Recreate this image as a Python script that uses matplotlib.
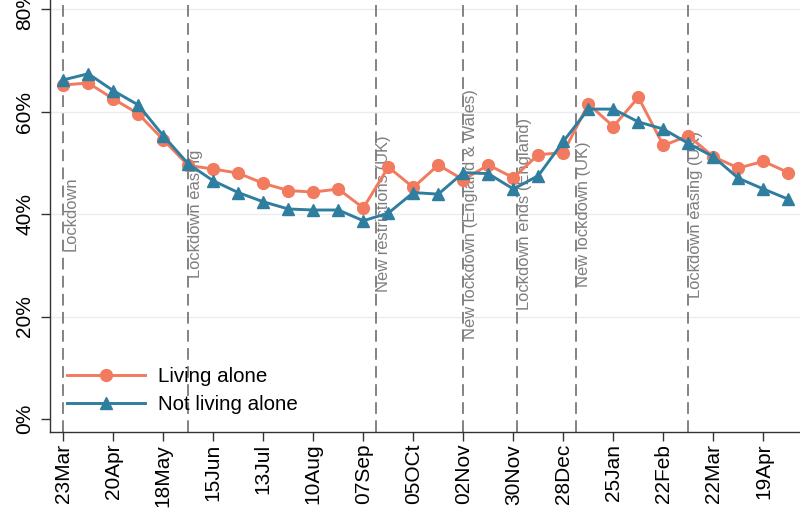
import pandas as pd
import matplotlib
matplotlib.use("Agg")
import matplotlib.pyplot as plt
import matplotlib.dates as mdates

plt.rcParams['font.family'] = ['Liberation Sans', 'DejaVu Sans']

# fortnightly survey waves
dates = pd.to_datetime([
    '2020-03-23', '2020-04-06', '2020-04-20', '2020-05-04', '2020-05-18',
    '2020-06-01', '2020-06-15', '2020-06-29', '2020-07-13', '2020-07-27',
    '2020-08-10', '2020-08-24', '2020-09-07', '2020-09-21', '2020-10-05',
    '2020-10-19', '2020-11-02', '2020-11-16', '2020-11-30', '2020-12-14',
    '2020-12-28', '2021-01-11', '2021-01-25', '2021-02-08', '2021-02-22',
    '2021-03-08', '2021-03-22', '2021-04-05', '2021-04-19', '2021-05-03'])

living_alone = [65.2, 65.6, 62.5, 59.6, 54.5, 49.5, 48.8, 48.0, 46.0, 44.6,
                44.3, 44.9, 41.2, 49.2, 45.2, 49.6, 46.7, 49.6, 47.1, 51.6,
                52.0, 61.5, 57.1, 62.8, 53.4, 55.3, 51.2, 49.0, 50.3, 48.1]
not_living_alone = [66.2, 67.4, 64.1, 61.3, 55.3, 49.8, 46.5, 44.2, 42.4, 41.0,
                    40.8, 40.8, 38.7, 40.2, 44.2, 43.9, 48.1, 47.9, 44.9, 47.5,
                    54.2, 60.5, 60.5, 58.0, 56.6, 53.8, 51.2, 47.0, 44.9, 42.9]

tick_dates = pd.to_datetime([
    '2020-03-23', '2020-04-20', '2020-05-18', '2020-06-15', '2020-07-13',
    '2020-08-10', '2020-09-07', '2020-10-05', '2020-11-02', '2020-11-30',
    '2020-12-28', '2021-01-25', '2021-02-22', '2021-03-22', '2021-04-19'])
tick_labels = ['23Mar', '20Apr', '18May', '15Jun', '13Jul', '10Aug', '07Sep',
               '05OCt', '02Nov', '30Nov', '28Dec', '25Jan', '22Feb', '22Mar',
               '19Apr']

event_dates = pd.to_datetime([
    '2020-03-23', '2020-06-01', '2020-09-14', '2020-11-02', '2020-12-02',
    '2021-01-04', '2021-03-08'])
event_labels = ['Lockdown', 'Lockdown easing', 'New restrictions (UK)',
                'New lockdown (England & Wales)', 'Lockdown ends (England)',
                'New lockdown (UK)', 'Lockdown easing (UK)']

red = '#F27A5E'
blue = '#2F7EA0'

fig = plt.figure(figsize=(8, 5.09), dpi=100)
ax = fig.add_axes([0.063, 0.1513, 0.937, 0.8487])

x0 = mdates.date2num(pd.Timestamp('2020-03-23'))
ax.set_xlim(x0 - 7.2, x0 + 412.5)
ax.set_ylim(-2.54, 81.8)

for v in [20, 40, 60, 80]:
    ax.axhline(v, color='#E6EEF3', lw=1.0, zorder=0)

for d, lab in zip(event_dates, event_labels):
    ax.axvline(d, color='#7A7A7A', lw=1.3, ls=(0, (6.5, 3.5)), zorder=1)
    ax.text(d, 40, lab, rotation=90, ha='left', va='center',
            fontsize=11.9, color='#7F7F7F', zorder=2)

ax.plot(dates, living_alone, color=red, lw=2.1, marker='o', ms=8.5,
        label='Living alone', zorder=3)
ax.plot(dates, not_living_alone, color=blue, lw=2.1, marker='^', ms=8,
        label='Not living alone', zorder=4)

ax.set_yticks([0, 20, 40, 60, 80])
ax.set_yticklabels(['0%', '20%', '40%', '60%', '80%'], rotation=90,
                   va='center', fontsize=15)
ax.set_xticks(tick_dates)
ax.set_xticklabels(tick_labels, rotation=90, fontsize=15)
ax.tick_params(axis='both', length=6.5, width=1, color='#333333', pad=2)
ax.tick_params(axis='y', pad=5)

for s in ['top', 'right']:
    ax.spines[s].set_visible(False)
for s in ['left', 'bottom']:
    ax.spines[s].set_color('#333333')
    ax.spines[s].set_linewidth(1)

ax.legend(loc='center left', bbox_to_anchor=(0.022, 0.0963), frameon=False,
          fontsize=14.8, handlelength=3.8, handletextpad=0.62,
          labelspacing=0.45, borderpad=0, borderaxespad=0)

fig.savefig('out.png', dpi=100)
